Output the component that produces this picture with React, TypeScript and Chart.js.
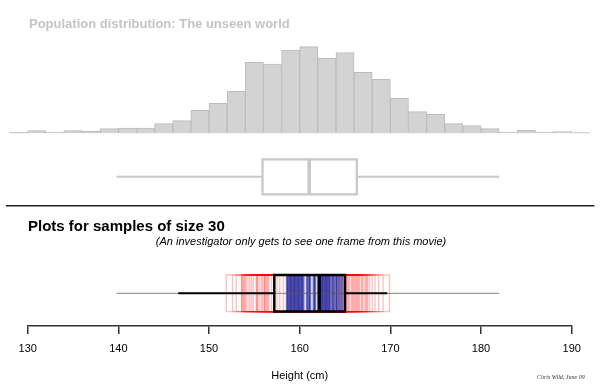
import React, { useEffect, useRef } from "react";
import { Chart, registerables } from "chart.js";

Chart.register(...registerables);

// ---------- data ----------
const binCenters = [129, 131, 133, 135, 137, 139, 141, 143, 145, 147, 149, 151, 153, 155, 157, 159, 161, 163, 165, 167, 169, 171, 173, 175, 177, 179, 181, 183, 185, 187, 189, 191];
const binFreq = [1.0, 2.6, 1.3, 2.6, 2.0, 4.7, 5.3, 5.3, 9.7, 12.7, 23, 30, 42, 71, 69.3, 83.3, 86.7, 75, 80.7, 61, 54, 35, 21.7, 19, 9.7, 7.7, 4.7, 1.3, 3.0, 1.3, 1.7, 0.7];
const axisTicks = [130, 140, 150, 160, 170, 180, 190];

// [min, q1, median, q3, max]
const popStats = [139.8, 155.9, 161.05, 166.3, 182.0];
const sampleStats = [146.6, 157.2, 162.15, 165.0, 169.65];

// boxes from earlier frames of the movie
const pastQ1 = [151.9, 153.0, 153.6, 153.7, 153.9, 154.1, 154.5, 154.9, 155.3, 155.4, 155.6, 155.8, 156.1, 156.1, 156.4, 156.6, 156.9, 157.8, 158.2, 154.3, 155.2, 156.3, 153.8, 157.5, 153.6, 154.0, 155.3, 155.9, 156.2, 156.5, 152.6, 154.7];
const pastMedian = [158.6, 158.75, 158.9, 159.05, 159.2, 159.35, 159.5, 159.65, 159.8, 159.95, 160.1, 160.25, 160.4, 160.8, 161.0, 161.15, 161.55, 161.7, 162.3, 162.45, 162.6, 162.75, 162.9, 163.05, 163.2, 163.35, 163.6, 163.75, 164.0, 164.15, 164.4, 164.7];
const pastQ3 = [165.2, 165.5, 165.8, 166.1, 166.3, 166.6, 166.9, 167.2, 167.4, 167.7, 168.3, 168.7, 169.2, 169.9, 164.3, 164.6, 164.9, 165.4, 166.2, 167.0, 166.5, 165.7, 167.5, 164.5, 165.3, 165.9, 166.4, 166.8, 167.3, 165.1, 168.0, 166.0];

// ---------- layout constants ----------
const FONT = "'Liberation Sans', Arial, Helvetica, sans-serif";
const RULE_X = [127.6, 192.5];
const RULE_Y = -1.65;

type Pt = { x: number; y: number };

const seg = (x0: number, y0: number, x1: number, y1: number): Pt[] => [
  { x: x0, y: y0 },
  { x: x1, y: y1 },
];
const rect = (x0: number, x1: number, y0: number, y1: number): Pt[] => [
  { x: x0, y: y0 },
  { x: x1, y: y0 },
  { x: x1, y: y1 },
  { x: x0, y: y1 },
  { x: x0, y: y0 },
];

const lineDs = (data: Pt[], yAxisID: string, color: string, width: number, cap: CanvasLineCap = "butt") => ({
  type: "line" as const,
  data,
  yAxisID,
  xAxisID: "x",
  borderColor: color,
  borderWidth: width,
  borderCapStyle: cap,
  borderJoinStyle: "miter" as const,
  pointRadius: 0,
  pointHoverRadius: 0,
  fill: false,
  tension: 0,
  clip: false as const,
  showLine: true,
});

function buildDatasets() {
  const layers: any[] = [];
  // histogram
  layers.push({
    type: "bar",
    data: binCenters.map((c, i) => ({ x: c, y: binFreq[i] })),
    yAxisID: "yHist",
    xAxisID: "x",
    backgroundColor: "#d3d3d3",
    borderColor: "#bcbcbc",
    borderWidth: 1,
    barPercentage: 1,
    categoryPercentage: 1,
    clip: false,
  });
  // population box plot
  const [pMin, pQ1, pMed, pQ3, pMax] = popStats;
  const popGrey = "#c8c8c8";
  layers.push(lineDs(seg(pMin, 0, pQ1, 0), "yPop", popGrey, 2));
  layers.push(lineDs(seg(pQ3, 0, pMax, 0), "yPop", popGrey, 2));
  layers.push(lineDs(rect(pQ1, pQ3, -1, 1), "yPop", popGrey, 2.2, "square"));
  layers.push(lineDs(seg(pMed, -1, pMed, 1), "yPop", popGrey, 3.5));
  // separating rule
  layers.push(lineDs(seg(RULE_X[0], RULE_Y, RULE_X[1], RULE_Y), "yPop", "#222", 1.5));
  // previous boxes (memory trail)
  pastQ1.forEach((q1, i) => {
    layers.push(lineDs(rect(q1, pastQ3[i], -1, 1), "ySamp", "rgba(255,0,0,0.24)", 1.4));
  });
  pastMedian.forEach((m) => {
    layers.push(lineDs(seg(m, -1, m, 1), "ySamp", "rgba(20,20,145,0.62)", 2.4));
  });
  // population range line
  layers.push(lineDs(seg(popStats[0], 0, popStats[4], 0), "ySamp", "rgba(90,90,90,0.6)", 1.2));
  // current sample box plot
  const [sMin, sQ1, sMed, sQ3, sMax] = sampleStats;
  layers.push(lineDs(seg(sMin, 0, sQ1, 0), "ySamp", "#000", 2));
  layers.push(lineDs(seg(sQ3, 0, sMax, 0), "ySamp", "#000", 2));
  layers.push(lineDs(rect(sQ1, sQ3, -1, 1), "ySamp", "#000", 2.5, "square"));
  layers.push(lineDs(seg(sMed, -1, sMed, 1), "ySamp", "#000", 3.5));
  // first element is drawn last by Chart.js
  return layers.reverse();
}

export default function App() {
  const canvasRef = useRef<HTMLCanvasElement | null>(null);

  useEffect(() => {
    if (!canvasRef.current) return;
    const chart = new Chart(canvasRef.current, {
      type: "bar",
      data: { datasets: buildDatasets() },
      options: {
        animation: false,
        responsive: false,
        devicePixelRatio: 1,
        events: [],
        layout: { padding: { left: 27.7, right: 28.3, top: 0, bottom: 0 } },
        plugins: {
          legend: { display: false },
          tooltip: { enabled: false },
          title: { display: false },
        },
        scales: {
          x: {
            type: "linear",
            position: "bottom",
            min: 130,
            max: 190,
            offset: false,
            afterBuildTicks: (s: any) => {
              s.ticks = axisTicks.map((v) => ({ value: v }));
            },
            afterFit: (s: any) => {
              s.height = 61;
            },
            ticks: {
              autoSkip: false,
              maxRotation: 0,
              padding: 8,
              color: "#000",
              font: { family: FONT, size: 11 },
            },
            grid: {
              drawOnChartArea: false,
              drawTicks: true,
              tickLength: 8,
              color: "#333",
              lineWidth: 1.5,
              offset: false,
            },
            border: { display: true, color: "#333", width: 1.5 },
            title: {
              display: true,
              text: "Height (cm)",
              color: "#000",
              font: { family: FONT, size: 11 },
              padding: { top: 0, bottom: 4 },
            },
          },
          // stacked rows: listed from bottom to top
          ySamp: {
            type: "linear",
            position: "left",
            stack: "rows",
            stackWeight: 112,
            min: -1.787,
            max: 4.333,
            display: false,
          },
          yPop: {
            type: "linear",
            position: "left",
            stack: "rows",
            stackWeight: 74,
            min: -2.126,
            max: 2.103,
            display: false,
          },
          yHist: {
            type: "linear",
            position: "left",
            stack: "rows",
            stackWeight: 140,
            min: -6.7,
            max: 133.3,
            display: false,
          },
        },
      } as any,
    });
    return () => chart.destroy();
  }, []);

  return (
    <div
      style={{
        position: "absolute",
        left: 0,
        top: 0,
        width: 600,
        height: 387,
        background: "#fff",
        overflow: "hidden",
        fontFamily: FONT,
      }}
    >
      <canvas ref={canvasRef} width={600} height={387} style={{ position: "absolute", left: 0, top: 0, width: 600, height: 387 }} />
      <div
        style={{
          position: "absolute",
          left: 29,
          top: 17,
          fontSize: 13,
          lineHeight: "13px",
          fontWeight: "bold",
          color: "#c4c4c4",
          whiteSpace: "nowrap",
        }}
      >
        Population distribution: The unseen world
      </div>
      <div
        style={{
          position: "absolute",
          left: 28,
          top: 218,
          fontSize: 15,
          lineHeight: "15px",
          fontWeight: "bold",
          color: "#000",
          whiteSpace: "nowrap",
        }}
      >
        Plots for samples of size 30
      </div>
      <div
        style={{
          position: "absolute",
          left: 0,
          width: 602,
          top: 236,
          textAlign: "center",
          fontSize: 11,
          lineHeight: "11px",
          fontStyle: "italic",
          color: "#000",
          whiteSpace: "nowrap",
        }}
      >
        (An investigator only gets to see one frame from this movie)
      </div>
      <div
        style={{
          position: "absolute",
          left: 537,
          top: 374,
          fontSize: 6,
          lineHeight: "6px",
          fontStyle: "italic",
          fontFamily: "'Liberation Serif', serif",
          color: "#333",
          whiteSpace: "nowrap",
        }}
      >
        Chris Wild, June 09
      </div>
    </div>
  );
}
